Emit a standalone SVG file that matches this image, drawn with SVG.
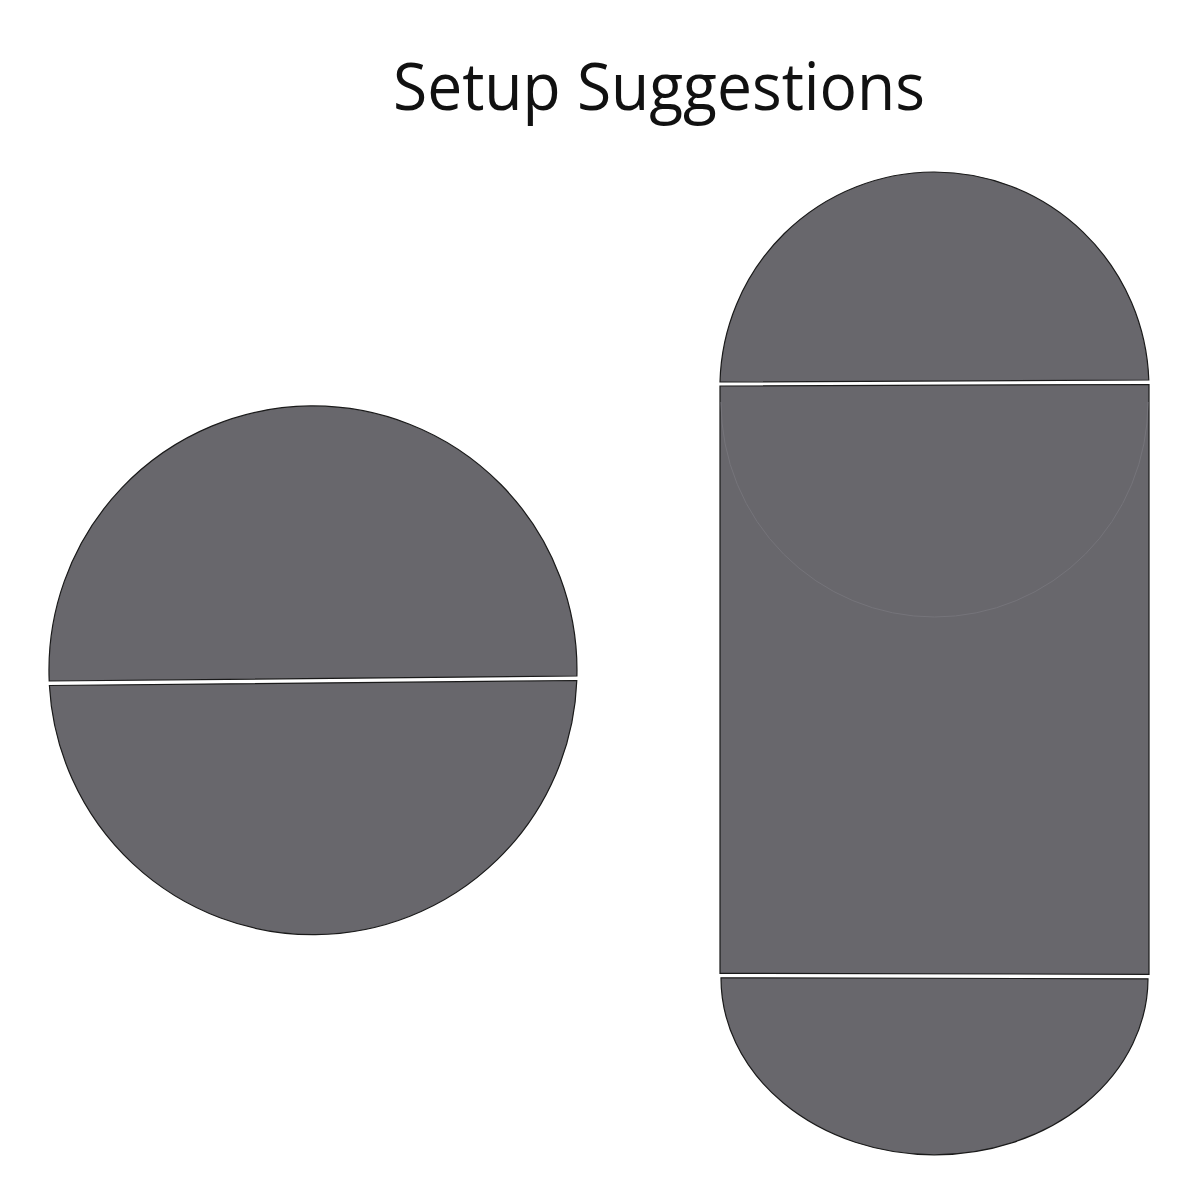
<svg xmlns="http://www.w3.org/2000/svg" width="1200" height="1200" viewBox="0 0 1200 1200">
<style>
.piece{fill:#68676c;stroke:#1a1a1a;stroke-width:1.2}
.title{font-family:"Open Sans","Noto Sans","DejaVu Sans",sans-serif;font-size:65px;fill:#111}
</style>
<rect width="1200" height="1200" fill="#fff"/>
<text class="title" x="393" y="110" textLength="532" lengthAdjust="spacingAndGlyphs">Setup Suggestions</text>
<g id="round-table">
<path class="piece" d="M49.2,681 A264,264 0 1 1 576.9,676 Z"/>
<path class="piece" d="M49.4,685.5 L576.8,680.5 A264,264 0 0 1 49.4,685.5 Z"/>
</g>
<g id="oval-table">
<path id="top-cap" class="piece" d="M720,382 A214.5,215.5 0 0 1 1148.8,380 Z"/>
<path id="middle" class="piece" d="M720,386 L1149,384.5 L1149,974.3 L720,973.3 Z"/>
<path d="M721,402 A213.5,215 0 0 0 1148,402" fill="none" stroke="#75747a" stroke-width="1"/>
<path id="bottom-cap" class="piece" d="M721,977.8 L1148,978.8 A213.5,176.5 0 0 1 721,977.8 Z"/>
</g>
</svg>
